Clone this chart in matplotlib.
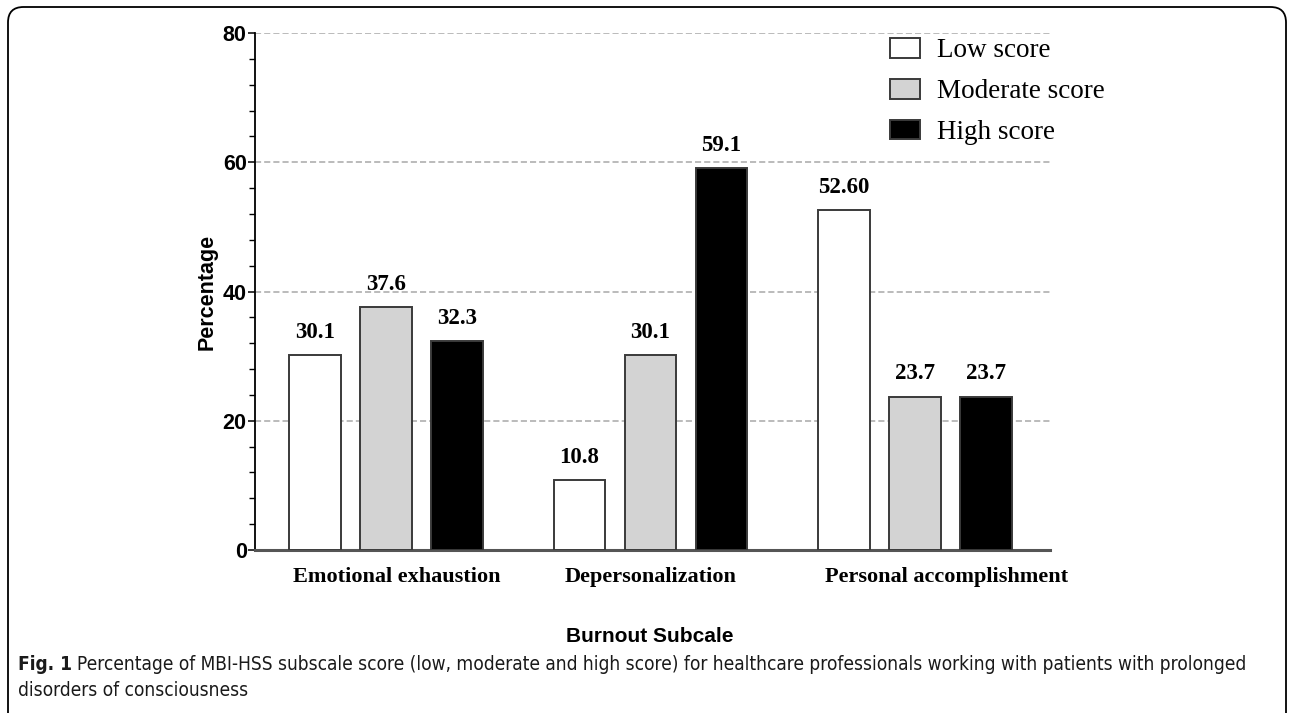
import matplotlib.pyplot as plt
import numpy as np
from matplotlib.patches import Patch, FancyBboxPatch

# data
subscales = ["Emotional exhaustion", "Depersonalization", "Personal accomplishment"]
levels = ["Low score", "Moderate score", "High score"]
low = [30.1, 10.8, 52.60]
moderate = [37.6, 30.1, 23.7]
high = [32.3, 59.1, 23.7]
low_txt = ["30.1", "10.8", "52.60"]
moderate_txt = ["37.6", "30.1", "23.7"]
high_txt = ["32.3", "59.1", "23.7"]
yticks = [0, 20, 40, 60, 80]

colors = ["white", "#d3d3d3", "black"]
edge = "#3a3a3a"

fig = plt.figure(figsize=(12.9, 7.13), dpi=100)
ax = fig.add_axes([0.1977, 0.2286, 0.6163, 0.7251])

gap = 3.725
centers = np.arange(len(subscales)) * gap
w = 0.72
series = [low, moderate, high]
texts = [low_txt, moderate_txt, high_txt]
for k in range(3):
    bars = ax.bar(centers + (k - 1), series[k], width=w, color=colors[k],
                  edgecolor=edge, linewidth=1.4, zorder=3, label=levels[k])
    ax.bar_label(bars, labels=texts[k], padding=9, fontsize=16.5,
                 fontweight="bold", family="Liberation Serif")

ax.set_xlim(-1.845, 9.352)
ax.set_ylim(0, 80)
ax.set_yticks(yticks)
ax.set_yticks(np.arange(0, 81, 4), minor=True)
ax.yaxis.grid(True, color="#a8a8a8", linestyle=(0, (4, 2)), linewidth=1.1, zorder=0)

# labels sit a little right of the group centres in the original
nudge = [0.155, 0.0, 0.45]
ax.set_xticks(centers + np.array(nudge))
ax.set_xticklabels(subscales, fontsize=16, fontweight="bold", family="Liberation Serif")
ax.tick_params(axis="x", length=0, pad=12)
ax.tick_params(axis="y", which="major", length=5, width=1.1, direction="out", pad=1,
               labelsize=15.5)
ax.tick_params(axis="y", which="minor", length=4, width=1.0, direction="out")
for t in ax.get_yticklabels():
    t.set_fontweight("bold")
    t.set_family("Liberation Sans")

for s in ["top", "right"]:
    ax.spines[s].set_visible(False)
ax.spines["left"].set_color("black")
ax.spines["left"].set_linewidth(1.3)
ax.spines["bottom"].set_color("#555555")
ax.spines["bottom"].set_linewidth(2.2)

ax.set_ylabel("Percentage", fontsize=15.5, fontweight="bold", family="Liberation Sans",
              labelpad=4)

handles = [Patch(facecolor=colors[k], edgecolor=edge, linewidth=1.4) for k in range(3)]
leg = fig.legend(handles, levels, loc="upper left", bbox_to_anchor=(882 / 1290, 1 - 30 / 713),
                 frameon=False, prop={"family": "Liberation Serif", "size": 19.5},
                 handlelength=1.1, handleheight=0.74, handletextpad=0.62,
                 labelspacing=0.57, borderaxespad=0, borderpad=0.3)

fig.text(650 / 1290, 1 - 636 / 713, "Burnout Subcale", ha="center", va="center",
         fontsize=15, fontweight="bold", family="Liberation Sans")

# caption, fitted to the original line width
cap1 = "Percentage of MBI-HSS subscale score (low, moderate and high score) for healthcare professionals working with patients with prolonged"
cap2 = "disorders of consciousness"
fig.canvas.draw()
r = fig.canvas.get_renderer()
fs = 13
t0 = fig.text(18 / 1290, 1 - 664 / 713, "Fig. 1", fontsize=fs, fontweight="bold",
              va="center", family="DejaVu Sans", stretch="condensed", color="#1a1a1a")
b0 = t0.get_window_extent(r)
t1 = fig.text((b0.x1 + 5) / 1290, 1 - 664 / 713, cap1, fontsize=fs, va="center",
              family="DejaVu Sans", stretch="condensed", color="#1a1a1a")
b1 = t1.get_window_extent(r)
scale = (1248 - 18) / (b1.x1 - b0.x0)
fs2 = fs * scale
t0.set_fontsize(fs2)
b0 = t0.get_window_extent(r)
t1.set_fontsize(fs2)
t1.set_x((b0.x1 + 5) / 1290)
fig.text(18 / 1290, 1 - 691 / 713, cap2, fontsize=fs2, va="center",
         family="DejaVu Sans", stretch="condensed", color="#1a1a1a")

frame = FancyBboxPatch((8 / 1290, -20 / 713), (1286 - 8) / 1290, (713 - 7 + 20) / 713,
                       boxstyle="round,pad=0,rounding_size=0.012",
                       transform=fig.transFigure, facecolor="none", edgecolor="black",
                       linewidth=1.3, mutation_aspect=1290 / 713)
fig.patches.append(frame)

fig.savefig("out.png", dpi=100)
